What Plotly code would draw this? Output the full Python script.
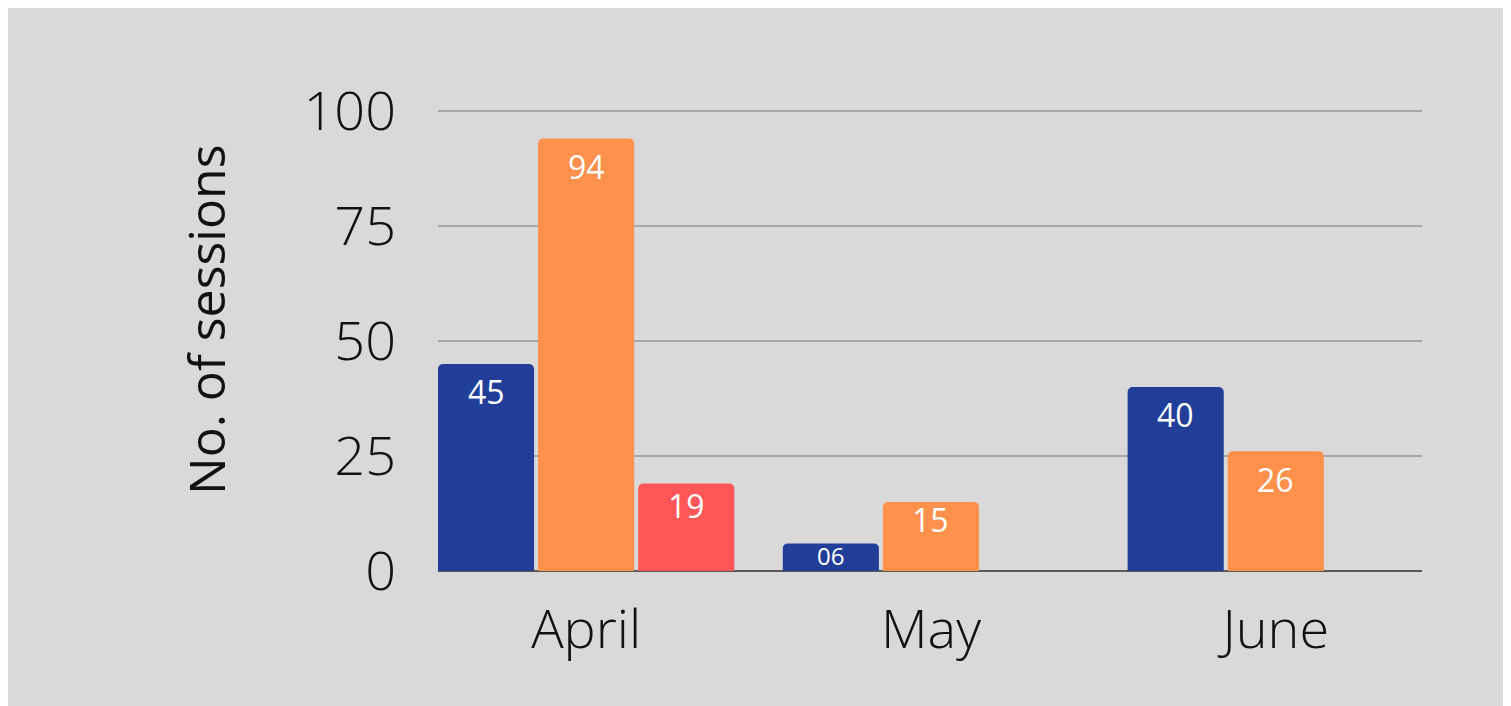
import plotly.graph_objects as go

months = ["April", "May", "June"]
series_a = [45, 6, 40]
series_b = [94, 15, 26]
series_c = [19, None, None]
labels_a = ["45", "06", "40"]
labels_b = ["94", "15", "26"]
labels_c = ["19", "", ""]
y_ticks = [0, 25, 50, 75, 100]
y_title = "No. of sessions"

colors = ["#213f99", "#ff914d", "#ff5757"]
series = [series_a, series_b, series_c]
labels = [labels_a, labels_b, labels_c]

W, H = 1503, 698
ML, MR, MT, MB = 430, 89, 101, 135
BARGAP = 0.129
YMAX = 100.4
PX_PER_UNIT = (H - MT - MB) / YMAX

fig = go.Figure()
for i, (vals, col) in enumerate(zip(series, colors)):
    fig.add_trace(go.Bar(x=months, y=vals, marker=dict(color=col, line=dict(width=0)),
                         showlegend=False, hoverinfo="skip"))

# value labels
slot = (1 - BARGAP) / 3.0
annotations = []
for i, (vals, labs) in enumerate(zip(series, labels)):
    for j, (v, t) in enumerate(zip(vals, labs)):
        if v is None or not t:
            continue
        h = v * PX_PER_UNIT
        shift = -min(28, max(12, 0.25 * h))
        size = 32 if h > 40 else 24
        annotations.append(dict(x=j + (i - 1) * slot, y=v, xref="x", yref="y", text=t,
                                showarrow=False, yanchor="middle", yshift=shift,
                                font=dict(family="Open Sans", size=size, color="white")))

# y-axis title as rotated annotation
annotations.append(dict(x=-0.236, y=0.545, xref="paper", yref="paper", text=y_title,
                        textangle=-90, showarrow=False, xanchor="center", yanchor="middle",
                        font=dict(family="Open Sans", size=50, color="#111111")))

fig.update_layout(
    width=W, height=H,
    margin=dict(l=ML, r=MR, t=MT, b=MB, autoexpand=False),
    paper_bgcolor="#d9d9d9",
    plot_bgcolor="#d9d9d9",
    barmode="group", bargap=BARGAP, bargroupgap=0.04, barcornerradius=5,
    annotations=annotations,
    xaxis=dict(range=[-0.4296, 2.424], showgrid=False, zeroline=False, showline=False,
               ticks="", ticklabelstandoff=22,
               tickfont=dict(family="Open Sans", size=54, color="#111111", weight=300)),
    yaxis=dict(range=[0, YMAX], tickvals=y_ticks, showgrid=True, gridcolor="#a6a6a6", gridwidth=2,
               zeroline=True, zerolinecolor="#595959", zerolinewidth=2, showline=False,
               ticks="", ticklabelstandoff=41,
               tickfont=dict(family="Open Sans", size=54, color="#111111", weight=300)),
)

fig.write_html("out.html")
